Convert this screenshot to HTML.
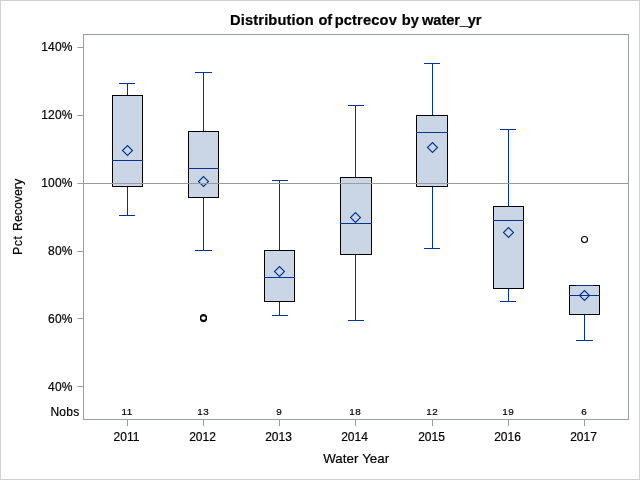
<!DOCTYPE html>
<html><head><meta charset="utf-8"><title>Distribution of pctrecov by water_yr</title>
<style>html,body{margin:0;padding:0;background:#fff;width:640px;height:480px;overflow:hidden}</style>
</head><body>
<svg width="640" height="480" viewBox="0 0 640 480" style="display:block;position:absolute;left:0;top:0">
<rect x="0" y="0" width="640" height="480" fill="#fff"/>
<g shape-rendering="crispEdges">
<rect x="0.5" y="0.5" width="639" height="479" fill="none" stroke="#d0d0d0" stroke-width="1"/>
<rect x="83.5" y="34.5" width="545" height="385" fill="#fff" stroke="#989ea1" stroke-width="1"/>
<rect x="77.4" y="47" width="5.6" height="1" fill="#989ea1" shape-rendering="geometricPrecision"/>
<rect x="77.4" y="115" width="5.6" height="1" fill="#989ea1" shape-rendering="geometricPrecision"/>
<rect x="77.4" y="183" width="5.6" height="1" fill="#989ea1" shape-rendering="geometricPrecision"/>
<rect x="77.4" y="251" width="5.6" height="1" fill="#989ea1" shape-rendering="geometricPrecision"/>
<rect x="77.4" y="318" width="5.6" height="1" fill="#989ea1" shape-rendering="geometricPrecision"/>
<rect x="77.4" y="386" width="5.6" height="1" fill="#989ea1" shape-rendering="geometricPrecision"/>
<rect x="127" y="420" width="1" height="6" fill="#989ea1"/>
<rect x="203" y="420" width="1" height="6" fill="#989ea1"/>
<rect x="279" y="420" width="1" height="6" fill="#989ea1"/>
<rect x="355" y="420" width="1" height="6" fill="#989ea1"/>
<rect x="432" y="420" width="1" height="6" fill="#989ea1"/>
<rect x="508" y="420" width="1" height="6" fill="#989ea1"/>
<rect x="584" y="420" width="1" height="6" fill="#989ea1"/>
</g>
<g shape-rendering="crispEdges">
<rect x="127" y="83" width="1" height="12" fill="#003399"/>
<rect x="127" y="186" width="1" height="30" fill="#003399"/>
<rect x="119" y="215" width="16" height="1" fill="#003399"/>
<rect x="112.5" y="95.5" width="30" height="91" fill="#cad5e5" stroke="#000" stroke-width="1"/>
<rect x="119" y="83" width="16" height="1" fill="#003399"/>
<rect x="112" y="160" width="31" height="1" fill="#003399"/>
</g>
<path d="M122.5 150.5L127.5 145.5L132.5 150.5L127.5 155.5Z" fill="none" stroke="#003399" stroke-width="1.1"/>
<g shape-rendering="crispEdges">
<rect x="203" y="72" width="1" height="59" fill="#003399"/>
<rect x="203" y="197" width="1" height="54" fill="#003399"/>
<rect x="195" y="250" width="17" height="1" fill="#003399"/>
<rect x="188.5" y="131.5" width="30" height="66" fill="#cad5e5" stroke="#000" stroke-width="1"/>
<rect x="195" y="72" width="17" height="1" fill="#003399"/>
<rect x="188" y="168" width="31" height="1" fill="#003399"/>
</g>
<path d="M198.5 181.5L203.5 176.5L208.5 181.5L203.5 186.5Z" fill="none" stroke="#003399" stroke-width="1.1"/>
<g shape-rendering="crispEdges">
<rect x="279" y="180" width="1" height="70" fill="#003399"/>
<rect x="279" y="301" width="1" height="15" fill="#003399"/>
<rect x="272" y="315" width="16" height="1" fill="#003399"/>
<rect x="264.5" y="250.5" width="30" height="51" fill="#cad5e5" stroke="#000" stroke-width="1"/>
<rect x="272" y="180" width="16" height="1" fill="#003399"/>
<rect x="264" y="277" width="31" height="1" fill="#003399"/>
</g>
<path d="M274.5 271.5L279.5 266.5L284.5 271.5L279.5 276.5Z" fill="none" stroke="#003399" stroke-width="1.1"/>
<g shape-rendering="crispEdges">
<rect x="355" y="105" width="1" height="72" fill="#003399"/>
<rect x="355" y="254" width="1" height="67" fill="#003399"/>
<rect x="348" y="320" width="16" height="1" fill="#003399"/>
<rect x="340.5" y="177.5" width="31" height="77" fill="#cad5e5" stroke="#000" stroke-width="1"/>
<rect x="348" y="105" width="16" height="1" fill="#003399"/>
<rect x="340" y="223" width="32" height="1" fill="#003399"/>
</g>
<path d="M350.5 217.5L355.5 212.5L360.5 217.5L355.5 222.5Z" fill="none" stroke="#003399" stroke-width="1.1"/>
<g shape-rendering="crispEdges">
<rect x="432" y="63" width="1" height="52" fill="#003399"/>
<rect x="432" y="186" width="1" height="63" fill="#003399"/>
<rect x="424" y="248" width="16" height="1" fill="#003399"/>
<rect x="416.5" y="115.5" width="31" height="71" fill="#cad5e5" stroke="#000" stroke-width="1"/>
<rect x="424" y="63" width="16" height="1" fill="#003399"/>
<rect x="416" y="132" width="32" height="1" fill="#003399"/>
</g>
<path d="M427.5 147.5L432.5 142.5L437.5 147.5L432.5 152.5Z" fill="none" stroke="#003399" stroke-width="1.1"/>
<g shape-rendering="crispEdges">
<rect x="508" y="129" width="1" height="77" fill="#003399"/>
<rect x="508" y="288" width="1" height="14" fill="#003399"/>
<rect x="500" y="301" width="16" height="1" fill="#003399"/>
<rect x="493.5" y="206.5" width="30" height="82" fill="#cad5e5" stroke="#000" stroke-width="1"/>
<rect x="500" y="129" width="16" height="1" fill="#003399"/>
<rect x="493" y="220" width="31" height="1" fill="#003399"/>
</g>
<path d="M503.5 232.5L508.5 227.5L513.5 232.5L508.5 237.5Z" fill="none" stroke="#003399" stroke-width="1.1"/>
<g shape-rendering="crispEdges">
<rect x="584" y="314" width="1" height="27" fill="#003399"/>
<rect x="576" y="340" width="17" height="1" fill="#003399"/>
<rect x="569.5" y="285.5" width="30" height="29" fill="#cad5e5" stroke="#000" stroke-width="1"/>
<rect x="576" y="285" width="17" height="1" fill="#003399"/>
<rect x="569" y="295" width="31" height="1" fill="#003399"/>
</g>
<path d="M579.5 295.5L584.5 290.5L589.5 295.5L584.5 300.5Z" fill="none" stroke="#003399" stroke-width="1.1"/>
<circle cx="203.5" cy="317.6" r="3" fill="none" stroke="#000" stroke-width="1.1"/>
<circle cx="203.5" cy="318.6" r="3" fill="none" stroke="#000" stroke-width="1.1"/>
<circle cx="584.5" cy="239.5" r="3" fill="none" stroke="#000" stroke-width="1.1"/>
<rect x="84" y="183" width="544" height="1" fill="#999c9e" shape-rendering="crispEdges"/>
<g font-family="Liberation Sans, Arial, sans-serif" fill="#000" stroke="#000" stroke-width="0.2">
<text y="25" font-size="14.67" font-weight="bold"><tspan x="230.1" letter-spacing="0.13">Distribution</tspan> <tspan x="318.4" letter-spacing="0">of</tspan> <tspan x="334.7" letter-spacing="0.15">pctrecov</tspan> <tspan x="401.7" letter-spacing="0">by</tspan> <tspan x="422.1" letter-spacing="-0.12">water_yr</tspan></text>
<text x="72.7" y="50.9" font-size="12" text-anchor="end" letter-spacing="0.2">140%</text>
<text x="72.7" y="118.9" font-size="12" text-anchor="end" letter-spacing="0.2">120%</text>
<text x="72.7" y="186.9" font-size="12" text-anchor="end" letter-spacing="0.2">100%</text>
<text x="72.7" y="254.9" font-size="12" text-anchor="end" letter-spacing="0.2">80%</text>
<text x="72.7" y="322.9" font-size="12" text-anchor="end" letter-spacing="0.2">60%</text>
<text x="72.7" y="390.9" font-size="12" text-anchor="end" letter-spacing="0.2">40%</text>
<text x="79.6" y="416" font-size="12" text-anchor="end" letter-spacing="0.3">Nobs</text>
<text x="127.15" y="415" font-size="9.9" text-anchor="middle" letter-spacing="0.5">11</text>
<text x="126.5" y="440.7" font-size="12" text-anchor="middle">2011</text>
<text x="203.15" y="415" font-size="9.9" text-anchor="middle" letter-spacing="0.5">13</text>
<text x="202.5" y="440.7" font-size="12" text-anchor="middle">2012</text>
<text x="279.15" y="415" font-size="9.9" text-anchor="middle" letter-spacing="0.5">9</text>
<text x="278.5" y="440.7" font-size="12" text-anchor="middle">2013</text>
<text x="355.15" y="415" font-size="9.9" text-anchor="middle" letter-spacing="0.5">18</text>
<text x="354.5" y="440.7" font-size="12" text-anchor="middle">2014</text>
<text x="432.15" y="415" font-size="9.9" text-anchor="middle" letter-spacing="0.5">12</text>
<text x="431.5" y="440.7" font-size="12" text-anchor="middle">2015</text>
<text x="508.15" y="415" font-size="9.9" text-anchor="middle" letter-spacing="0.5">19</text>
<text x="507.5" y="440.7" font-size="12" text-anchor="middle">2016</text>
<text x="584.15" y="415" font-size="9.9" text-anchor="middle" letter-spacing="0.5">6</text>
<text x="583.5" y="440.7" font-size="12" text-anchor="middle">2017</text>
<text x="356.2" y="462.6" font-size="13.33" text-anchor="middle">Water <tspan dx="0.4">Year</tspan></text>
<text transform="translate(22.3 0) rotate(-90) scale(0.925 1)" font-size="13.33"><tspan x="-275.57" letter-spacing="0.55">Pct</tspan> <tspan x="-249.62">Recovery</tspan></text>
</g>
</svg>
</body></html>
